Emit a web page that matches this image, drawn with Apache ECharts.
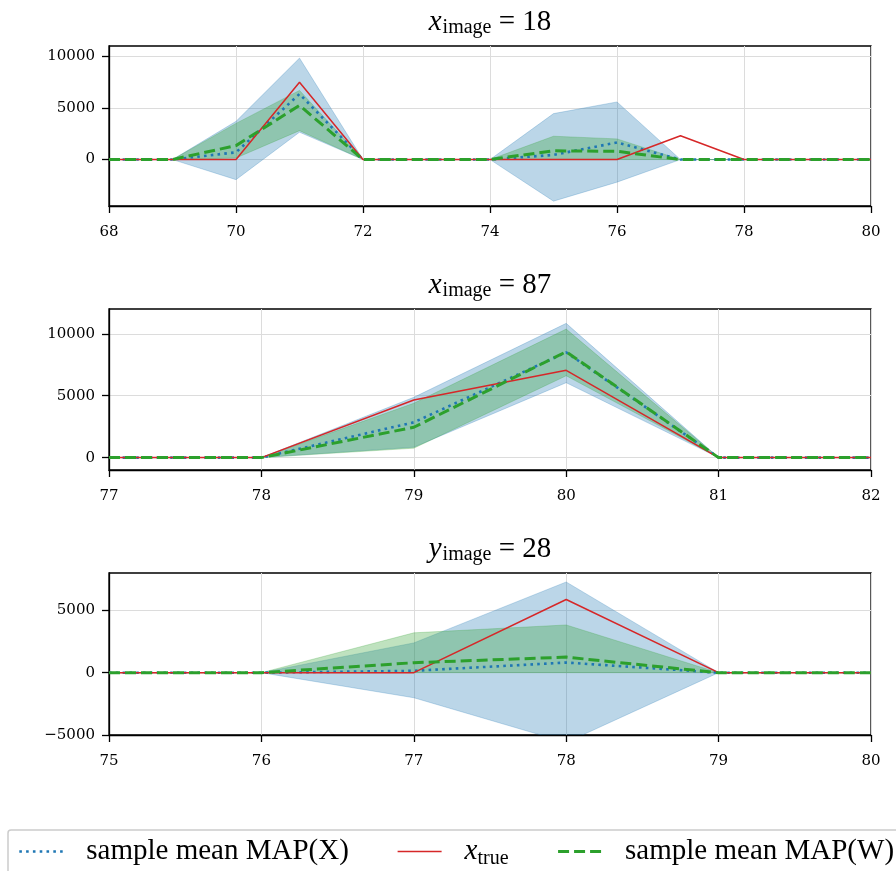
<!DOCTYPE html>
<html>
<head>
<meta charset="utf-8">
<script src="https://cdn.jsdelivr.net/npm/echarts@6/dist/echarts.min.js"></script>
<style>html,body{margin:0;padding:0;background:#fff;}#c{width:896px;height:871px;}</style>
</head>
<body>
<div id="c"></div>
<script>
// ---------- data ----------
const p1X = [68,69,70,71,72,73,74,75,76,77,78,79,80];
const p1True = [0,0,0,7480,0,0,0,0,0,2300,0,0,0];
const p1MapX = [0,0,700,6350,0,0,0,450,1650,0,0,0,0];
const p1MapW = [0,0,1350,5250,0,0,0,850,800,0,0,0,0];
const p1XLo = [0,0,-1950,2650,0,0,0,-4030,-2190,0,0,0,0];
const p1XHi = [0,0,3700,9830,0,0,0,4450,5580,0,0,0,0];
const p1WLo = [0,0,150,2800,0,0,0,0,0,0,0,0,0];
const p1WHi = [0,0,3500,6700,0,0,0,2260,2000,0,0,0,0];

const p2X = [77,78,79,80,81,82];
const p2True = [0,0,4650,7050,0,0];
const p2MapX = [0,0,2850,8500,0,0];
const p2MapW = [0,0,2450,8550,0,0];
const p2XLo = [0,0,840,6050,0,0];
const p2XHi = [0,0,4870,10840,0,0];
const p2WLo = [0,0,760,6610,0,0];
const p2WHi = [0,0,4390,10380,0,0];

const p3X = [75,76,77,78,79,80];
const p3True = [0,0,0,5870,0,0];
const p3MapX = [0,0,150,815,0,0];
const p3MapW = [0,0,800,1250,0,0];
const p3XLo = [0,0,-2010,-5600,0,0];
const p3XHi = [0,0,2390,7280,0,0];
const p3WLo = [0,0,0,0,0,0];
const p3WHi = [0,0,3200,3830,0,0];

const titles = [['18','x'], ['87','x'], ['28','y']];
const yTicks = [[0,5000,10000],[0,5000,10000],[-5000,0,5000]];
const xRanges = [[68,80,2],[77,82,1],[75,80,1]];
const yRanges = [[-4500,11000],[-1000,12000],[-5000,8000]];

const NAME_X = 'sample mean MAP(X)';
const NAME_T = 'x_true';
const NAME_W = 'sample mean MAP(W)';

// ---------- layout ----------
const gridTops = [46, 309, 573];
const gridHeights = [160, 161, 162];
const C0 = '#1f77b4', C2 = '#2ca02c', C3 = '#d62728';
const tickFont = 'DejaVu Serif';
const tickSize = 15;
const styleX = {color:C0, width:2.6, type:[2.6,4.2], cap:'butt'};
const styleT = {color:C3, width:1.5, type:'solid'};
const styleW = {color:C2, width:3, type:[11,5], cap:'butt'};

const panels = [
  {x:p1X, t:p1True, mx:p1MapX, mw:p1MapW, xlo:p1XLo, xhi:p1XHi, wlo:p1WLo, whi:p1WHi},
  {x:p2X, t:p2True, mx:p2MapX, mw:p2MapW, xlo:p2XLo, xhi:p2XHi, wlo:p2WLo, whi:p2WHi},
  {x:p3X, t:p3True, mx:p3MapX, mw:p3MapW, xlo:p3XLo, xhi:p3XHi, wlo:p3WLo, whi:p3WHi}
];

const fmt = v => (v < 0 ? '\u2212' + Math.abs(v) : String(v));
const pairs = (xs, ys) => xs.map((x, i) => [x, ys[i]]);

function band(k, xs, lo, hi, color, z) {
  return {
    type:'custom', xAxisIndex:k, yAxisIndex:k, z:z, silent:true, clip:true, animation:false,
    data: xs.map((x, i) => [x, lo[i], hi[i]]),
    encode: {x:0, y:[1,2]},
    renderItem: (params, api) => {
      if (params.dataIndex !== 0) return;
      const pts = [];
      for (let i = 0; i < xs.length; i++) pts.push(api.coord([xs[i], hi[i]]));
      for (let i = xs.length - 1; i >= 0; i--) pts.push(api.coord([xs[i], lo[i]]));
      return {type:'polygon', shape:{points:pts}, style:{fill:color, stroke:color, lineWidth:0.8}};
    }
  };
}

const grids = [], xAxes = [], yAxes = [], series = [], titleArr = [];
panels.forEach((p, k) => {
  grids.push({left:109, width:762, top:gridTops[k], height:gridHeights[k],
    show:true, borderColor:'#000', borderWidth:1.3, backgroundColor:'transparent', containLabel:false});
  xAxes.push({type:'value', gridIndex:k, min:xRanges[k][0], max:xRanges[k][1], interval:xRanges[k][2],
    axisLine:{show:true, onZero:false, lineStyle:{color:'#000', width:1.3}},
    axisTick:{show:true, inside:false, length:7, lineStyle:{color:'#000', width:1.3}},
    axisLabel:{color:'#000', fontFamily:tickFont, fontSize:tickSize, margin:19},
    splitLine:{show:true, lineStyle:{color:'#dcdcdc', width:1}}});
  yAxes.push({type:'value', gridIndex:k, min:yRanges[k][0], max:yRanges[k][1],
    axisLine:{show:true, onZero:false, lineStyle:{color:'#000', width:1.3}},
    axisTick:{show:true, inside:false, length:7, customValues:yTicks[k], lineStyle:{color:'#000', width:1.3}},
    axisLabel:{color:'#000', fontFamily:tickFont, fontSize:tickSize, margin:14, customValues:yTicks[k], formatter:fmt},
    splitLine:{show:true, lineStyle:{color:'#dcdcdc', width:1}}});

  const base = {type:'line', xAxisIndex:k, yAxisIndex:k, symbol:'none', silent:true, animation:false};
  series.push(band(k, p.x, p.xlo, p.xhi, 'rgba(31,119,180,0.3)', 1));
  series.push(band(k, p.x, p.wlo, p.whi, 'rgba(44,160,44,0.3)', 2));
  series.push(Object.assign({}, base, {name:NAME_X, data:pairs(p.x, p.mx), z:3,
    itemStyle:{color:C0}, lineStyle:styleX}));
  series.push(Object.assign({}, base, {name:NAME_T, data:pairs(p.x, p.t), z:4,
    itemStyle:{color:C3}, lineStyle:styleT}));
  series.push(Object.assign({}, base, {name:NAME_W, data:pairs(p.x, p.mw), z:5,
    itemStyle:{color:C2}, lineStyle:styleW}));

  titleArr.push({
    text:'{v|' + titles[k][1] + '}{s|image}{n| = ' + titles[k][0] + '}',
    left:485, textAlign:'center', top:gridTops[k] - 45,
    textStyle:{fontWeight:'normal', rich:{
      v:{fontFamily:'Liberation Serif', fontStyle:'italic', fontWeight:'normal', fontSize:29, lineHeight:32, verticalAlign:'middle', color:'#000'},
      s:{fontFamily:'Liberation Serif', fontWeight:'normal', fontSize:20, lineHeight:32, verticalAlign:'bottom', color:'#000', padding:[0,0,0,1]},
      n:{fontFamily:'Liberation Serif', fontWeight:'normal', fontSize:29, lineHeight:32, verticalAlign:'middle', color:'#000'}
    }}
  });
});

const chart = echarts.init(document.getElementById('c'), null, {renderer:'canvas'});
chart.setOption({
  animation:false,
  backgroundColor:'#fff',
  title:titleArr,
  grid:grids,
  xAxis:xAxes,
  yAxis:yAxes,
  legend:{
    data:[
      {name:NAME_X, lineStyle:styleX},
      {name:NAME_T, lineStyle:styleT},
      {name:NAME_W, lineStyle:styleW}
    ],
    left:8, top:830, width:1100, orient:'horizontal',
    itemWidth:44, itemHeight:14, itemGap:48,
    padding:[7, 14, 30, 10],
    borderColor:'#cccccc', borderWidth:1.5, borderRadius:3,
    backgroundColor:'#fff',
    itemStyle:{opacity:0},
    formatter: n => n === NAME_T ? '{v|x}{s|true}' : '{t|' + n + '}',
    textStyle:{rich:{
      t:{fontFamily:'Liberation Serif', fontSize:29, lineHeight:34, verticalAlign:'middle', color:'#000', padding:[0,0,0,18]},
      v:{fontFamily:'Liberation Serif', fontStyle:'italic', fontSize:29, lineHeight:34, verticalAlign:'middle', color:'#000', padding:[0,0,0,18]},
      s:{fontFamily:'Liberation Serif', fontSize:20, lineHeight:34, verticalAlign:'bottom', color:'#000'}
    }}
  },
  series:series
});
</script>
</body>
</html>
